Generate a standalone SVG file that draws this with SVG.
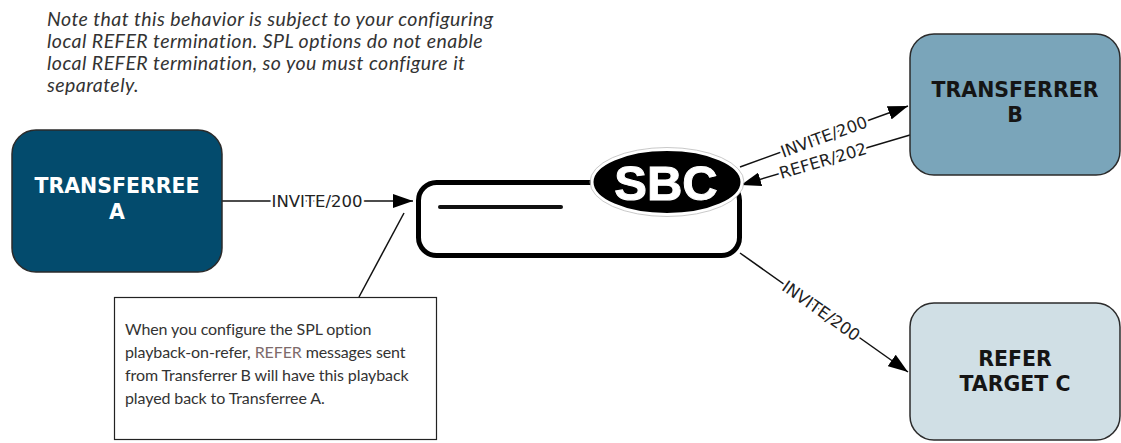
<svg xmlns="http://www.w3.org/2000/svg" width="1121" height="443" viewBox="0 0 1121 443">
<style>
.node{stroke:#2b2b2b;stroke-width:1.5}
.title{font-family:"DejaVu Sans",sans-serif;font-weight:bold;font-size:20.5px;text-anchor:middle}
.lbl{font-family:"DejaVu Sans",sans-serif;font-size:16.5px;fill:#222;text-anchor:middle;dominant-baseline:central;stroke:#fff;stroke-width:5;paint-order:stroke;stroke-linejoin:round}
.conn{stroke:#111;stroke-width:1.5;fill:none}
.note{font-family:Lato,"Liberation Sans",sans-serif;font-style:italic;font-size:19.5px;letter-spacing:0.45px;fill:#333}
.cap{font-family:Lato,"Liberation Sans",sans-serif;font-size:16px;letter-spacing:-0.1px;fill:#333}
</style>
<defs>
<marker id="arr" viewBox="0 0 20 14" refX="20" refY="7" markerWidth="20" markerHeight="14" markerUnits="userSpaceOnUse" orient="auto">
<path d="M0,0 L20,7 L0,14 Z" fill="#000"/>
</marker>
</defs>
<g id="note">
<text class="note"><tspan x="47" y="26">Note that this behavior is subject to your configuring</tspan><tspan x="47" y="48">local REFER termination. SPL options do not enable</tspan><tspan x="47" y="70">local REFER termination, so you must configure it</tspan><tspan x="47" y="92">separately.</tspan></text>
</g>
<g id="connectors">
<line class="conn" x1="222" y1="201" x2="413" y2="201" marker-end="url(#arr)"/>
<text class="lbl" x="317" y="201">INVITE/200</text>
<line class="conn" x1="740" y1="167" x2="908" y2="106" marker-end="url(#arr)"/>
<text class="lbl" transform="translate(824,137) rotate(-20)">INVITE/200</text>
<line class="conn" x1="910" y1="135" x2="741" y2="185" marker-end="url(#arr)"/>
<text class="lbl" transform="translate(823,161) rotate(-16.5)">REFER/202</text>
<line class="conn" x1="740" y1="253" x2="908" y2="372" marker-end="url(#arr)"/>
<text class="lbl" transform="translate(821,311) rotate(35.3)">INVITE/200</text>
<line class="conn" x1="404" y1="213" x2="359" y2="297" stroke-width="1"/>
</g>
<g id="transferree-a">
<rect class="node" x="12" y="130" width="210" height="142" rx="24" fill="#034b6d"/>
<text class="title" fill="#fff" x="117" y="193">TRANSFERREE</text>
<text class="title" fill="#fff" x="117" y="219">A</text>
</g>
<g id="transferrer-b">
<rect class="node" x="910" y="34" width="210" height="141" rx="24" fill="#7aa5ba"/>
<text class="title" fill="#151515" x="1015" y="97">TRANSFERRER</text>
<text class="title" fill="#151515" x="1015" y="122">B</text>
</g>
<g id="refer-target-c">
<rect class="node" x="910" y="303" width="210" height="137" rx="24" fill="#d0dfe5"/>
<text class="title" fill="#151515" x="1015" y="366">REFER</text>
<text class="title" fill="#151515" x="1015" y="391">TARGET C</text>
</g>
<g id="sbc">
<rect x="418.5" y="182.5" width="321" height="73" rx="18" fill="#fff" stroke="#000" stroke-width="5"/>
<line x1="440" y1="207" x2="561" y2="207" stroke="#111" stroke-width="4" stroke-linecap="round"/>
<ellipse cx="667" cy="182" rx="75" ry="32.5" fill="#000" stroke="#fff" stroke-width="3"/>
<ellipse cx="667" cy="182" rx="77" ry="34.5" fill="none" stroke="#bbb" stroke-width="0.8"/>
<text x="666" y="200" font-family="Liberation Sans,Arial,sans-serif" font-weight="bold" font-size="49" fill="#fff" stroke="#fff" stroke-width="1" text-anchor="middle">SBC</text>
</g>
<g id="caption">
<rect x="114.5" y="297.5" width="322" height="142" fill="#fff" stroke="#222" stroke-width="1.2"/>
<text class="cap"><tspan x="125" y="335">When you configure the SPL option</tspan><tspan x="125" y="358">playback-on-refer, <tspan fill="#7d6b6b">REFER</tspan> messages sent</tspan><tspan x="125" y="381">from Transferrer B will have this playback</tspan><tspan x="125" y="404">played back to Transferree A.</tspan></text>
</g>
</svg>
